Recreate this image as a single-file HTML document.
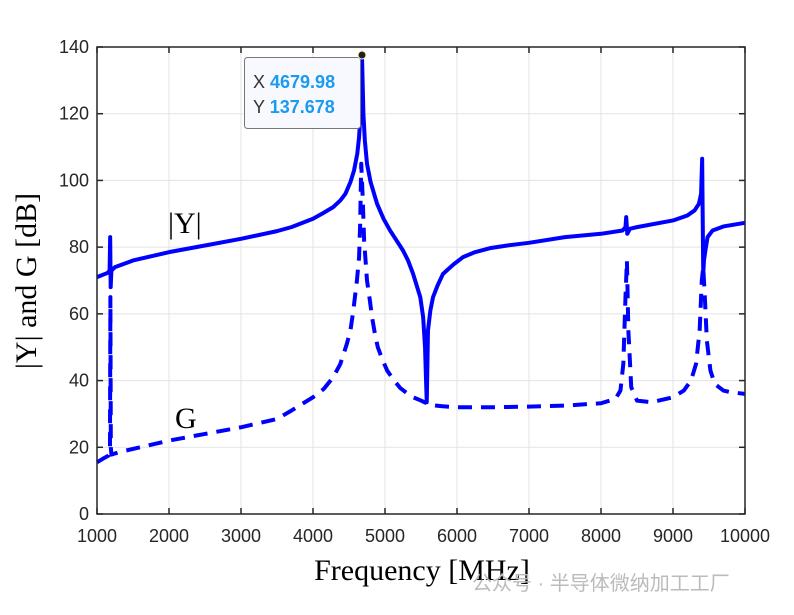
<!DOCTYPE html>
<html><head><meta charset="utf-8"><style>
body{margin:0;background:#fff;}
svg{display:block;font-family:"Liberation Sans",sans-serif;}
</style></head><body>
<svg id="chart" width="794" height="615">
<g id="grid"></g>
<g id="series"></g>
<g id="axes"></g>
<text x="168" y="233" font-family="Liberation Serif,serif" font-size="30">|Y|</text>
<text x="175" y="428" font-family="Liberation Serif,serif" font-size="30">G</text>
<text transform="translate(36,281) rotate(-90)" text-anchor="middle" font-family="Liberation Serif,serif" font-size="30">|Y| and G [dB]</text>
<text x="422" y="580" text-anchor="middle" font-family="Liberation Serif,serif" font-size="30">Frequency [MHz]</text>
<g>
<rect x="244.5" y="57.5" width="116" height="71" rx="3" fill="#f8f8ff" stroke="#777"/>
<text x="253" y="88" font-size="18" fill="#333">X <tspan fill="#1a9af0" font-weight="bold">4679.98</tspan></text>
<text x="253" y="113" font-size="18" fill="#333">Y <tspan fill="#1a9af0" font-weight="bold">137.678</tspan></text>
<circle cx="362" cy="55" r="4" fill="#222" stroke="#ffffc0" stroke-width="1"/>
</g>
<text x="472" y="590" font-family="Liberation Sans,Noto Sans CJK SC,sans-serif" font-size="20" fill="#bbb">公众号 · 半导体微纳加工工厂</text>
</svg>
<script>
const xTicks=[1000,2000,3000,4000,5000,6000,7000,8000,9000,10000];
const yTicks=[0,20,40,60,80,100,120,140];
const yFreq=[1000,1150,1175,1183,1190,1200,1250,1500,2000,2500,3000,3500,3700,4000,4140,4280,4380,4450,4520,4570,4615,4640,4660,4680,4700,4720,4750,4800,4890,4980,5070,5160,5250,5320,5390,5440,5490,5530,5556,5570,5580,5597,5630,5667,5730,5806,5950,6083,6250,6458,6700,7000,7500,8000,8300,8340,8350,8365,8400,8500,9000,9200,9300,9360,9390,9405,9420,9430,9450,9480,9550,9700,10000];
const yVals=[71,72.3,73,83,68,73,74,76,78.5,80.5,82.5,84.8,86,88.5,90.2,92,94,96,99.5,103,108,113,120,137.7,120,112,105,99.5,93,88.5,85,82,79,76,72,68.5,65,59,50,40,33.5,55,61,65,68.5,72,74.8,77,78.5,79.7,80.5,81.3,83,84,85,86,89,84,85.5,86,88,89.5,91,93,96,106.5,72,76,79,83,85,86.2,87.3];
const gFreq=[1000,1100,1160,1180,1186,1192,1200,1300,1600,2000,2500,3000,3500,3700,4000,4150,4280,4380,4470,4520,4560,4610,4640,4655,4670,4690,4710,4730,4750,4790,4820,4860,4900,4960,5030,5110,5210,5300,5390,5500,5625,5800,6000,6500,7000,7500,8000,8200,8270,8310,8340,8360,8380,8420,8500,8700,9000,9150,9250,9320,9370,9400,9420,9440,9470,9520,9580,9700,9800,10000];
const gVals=[15.5,16.8,17.5,18.5,65,20,17.8,18.5,20,22,24,26,28.5,31,35,37.5,41,45,51,55,61,70,77,87,105,95,82,76,70,64,59,54,50,46.5,43,40.5,37.8,36.3,35,34,32.7,32.3,32,32,32.2,32.5,33.2,34.5,37,45,65,76,55,38,34,33.5,35,37,40,45,55,70,74,66,52,43,39,37,36.5,36];
const X=v=>97+(v-1000)*648/9000, Y=v=>514-v*467/140;
const ns="http://www.w3.org/2000/svg";
function mk(t,a,p){const e=document.createElementNS(ns,t);for(const k in a)e.setAttribute(k,a[k]);p.appendChild(e);return e;}
const grid=document.getElementById('grid'),axes=document.getElementById('axes'),ser=document.getElementById('series');
xTicks.forEach(t=>{
 const l=mk('line',{x1:X(t),x2:X(t),y1:47,y2:514,stroke:'#e3e3e3'},grid);
 
 
 mk('line',{x1:X(t),x2:X(t),y1:514,y2:508,stroke:'#262626','stroke-width':1.5},axes);
 mk('line',{x1:X(t),x2:X(t),y1:47,y2:53,stroke:'#262626','stroke-width':1.5},axes);
 const tx=mk('text',{x:X(t),y:542,'text-anchor':'middle','font-size':18,fill:'#262626'},axes);
 tx.textContent=t;
 
 
});
yTicks.forEach(t=>{
 const l=mk('line',{x1:97,x2:745,y1:Y(t),y2:Y(t),stroke:'#e3e3e3'},grid);
 
 
 mk('line',{x1:97,x2:103,y1:Y(t),y2:Y(t),stroke:'#262626','stroke-width':1.5},axes);
 mk('line',{x1:745,x2:739,y1:Y(t),y2:Y(t),stroke:'#262626','stroke-width':1.5},axes);
 const tx=mk('text',{x:89,y:Y(t)+6,'text-anchor':'end','font-size':18,fill:'#262626'},axes);
 tx.textContent=t;
 
 
});
const box=mk('rect',{x:97,y:47,width:648,height:467,fill:'none',stroke:'#262626','stroke-width':1.5},axes);


const pg=mk('polyline',{points:gFreq.map((f,i)=>X(f)+','+Y(gVals[i])).join(' '),fill:'none',stroke:'#0000ff','stroke-width':4,'stroke-dasharray':'14 9','stroke-linejoin':'round'},ser);


const py=mk('polyline',{points:yFreq.map((f,i)=>X(f)+','+Y(yVals[i])).join(' '),fill:'none',stroke:'#0000ff','stroke-width':4,'stroke-linejoin':'round'},ser);


</script>
</body></html>
